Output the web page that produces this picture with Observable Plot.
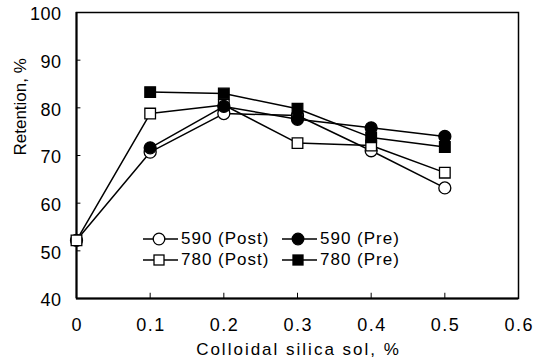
<!DOCTYPE html>
<html><head><meta charset="utf-8">
<script src="https://cdn.jsdelivr.net/npm/d3@7"></script>
<script src="https://cdn.jsdelivr.net/npm/@observablehq/plot@0.6"></script>
<style>
body{margin:0;background:#fff}
#wrap{position:relative;width:534px;height:363px;font-family:"Liberation Sans",Arial,sans-serif}
#legend{position:absolute;left:143px;top:228px;display:grid;grid-template-columns:139px 120px;row-gap:0.5px;font-size:17px;letter-spacing:1px;color:#000}
#legend .item{display:flex;align-items:center;height:21px;white-space:nowrap}
#legend svg{margin-right:3px;flex:none}
</style></head><body><div id="wrap"></div>
<script>
const silica = [0, 0.1, 0.2, 0.3, 0.4, 0.5];
const post590 = [52.2, 70.7, 78.8, 78.4, 71.0, 63.2];
const pre590  = [null, 71.6, 80.3, 77.6, 75.8, 74.0];
const post780 = [52.2, 78.8, 80.6, 72.6, 72.1, 66.4];
const pre780  = [null, 83.3, 83.0, 79.8, 73.8, 71.8];
const seriesNames = ["590 (Post)", "590 (Pre)", "780 (Post)", "780 (Pre)"];
const seriesValues = [post590, pre590, post780, pre780];
const seriesSymbol = ["circle", "circle", "square", "square"];
const seriesFill = ["white", "black", "white", "black"];
const drawOrder = ["590 (Post)", "780 (Post)", "590 (Pre)", "780 (Pre)"];
const legendOrder = ["590 (Post)", "590 (Pre)", "780 (Post)", "780 (Pre)"];
const xTicks = [0, 0.1, 0.2, 0.3, 0.4, 0.5, 0.6];
const yTicks = [40, 50, 60, 70, 80, 90, 100];
const xLabel = "Colloidal silica sol, %";
const yLabel = "Retention, %";

const rows = [];
seriesNames.forEach((s, i) => {
  silica.forEach((x, j) => {
    const v = seriesValues[i][j];
    if (v != null) rows.push({series: s, x, y: v, symbol: seriesSymbol[i], fill: seriesFill[i]});
  });
});
const ordered = drawOrder.flatMap(s => rows.filter(r => r.series === s));

const chart = Plot.plot({
  width: 534, height: 363,
  marginLeft: 76, marginRight: 16, marginTop: 12, marginBottom: 65,
  style: {fontFamily: '"Liberation Sans", Arial, sans-serif', fontSize: "17px", color: "#000", background: "#fff"},
  x: {domain: [0, 0.6]},
  y: {domain: [40, 100]},
  marks: [
    Plot.frame({stroke: "black", strokeWidth: 1.5}),
    Plot.axisX({ticks: xTicks, tickSize: 0, tickPadding: 20, tickFormat: d => d === 0 ? "0" : d.toFixed(1),
      label: null, fontSize: 18}),
    Plot.axisY({ticks: yTicks, tickSize: 0, tickPadding: 15, tickFormat: d => String(d),
      label: null, fontSize: 18, dy: 2}),
    Plot.text([xLabel], {text: d => d, frameAnchor: "bottom", dy: 56, fontSize: 17}),
    Plot.text([yLabel], {text: d => d, frameAnchor: "left", dx: -56, rotate: -90, fontSize: 17}),
    Plot.ruleY(yTicks.slice(1, -1), {y: d => d, x1: 0, x2: 0.006, stroke: "black", strokeWidth: 1}),
    Plot.ruleX(xTicks.slice(1, -1), {x: d => d, y1: 40, y2: 41.1, stroke: "black", strokeWidth: 1}),
    Plot.ruleX([0], {x: d => d, stroke: "black", strokeWidth: 2}),
    Plot.ruleY([40], {y: d => d, stroke: "black", strokeWidth: 2}),
    ...drawOrder.map(s => Plot.line(rows.filter(r => r.series === s), {x: "x", y: "y", stroke: "black", strokeWidth: 1.5})),
    Plot.dot(ordered, {x: "x", y: "y", symbol: "symbol", fill: "fill", stroke: "black", strokeWidth: 1.3, r: 6})
  ]
});
const wrap = document.getElementById("wrap");
wrap.appendChild(chart);

const root = chart.tagName.toLowerCase() === "svg" ? chart : chart.querySelector("svg");
const svg = d3.select(root);
svg.selectAll('g[aria-label="x-axis tick label"] text').style("letter-spacing", "1.5px").attr("dx", "0.75");
svg.selectAll('g[aria-label="y-axis tick label"] text').style("letter-spacing", "0.5px");
svg.selectAll("text").each(function() {
  if (this.textContent === xLabel) {
    d3.select(this).style("letter-spacing", "2px").attr("dx", "1");
  }
});

const legend = document.createElement("div");
legend.id = "legend";
legendOrder.forEach(name => {
  const i = seriesNames.indexOf(name);
  const item = document.createElement("div");
  item.className = "item";
  const sym = seriesSymbol[i] === "circle"
    ? `<circle cx="16" cy="7" r="5.8" fill="${seriesFill[i]}" stroke="black" stroke-width="1.3"/>`
    : `<rect x="11" y="2" width="10" height="10" fill="${seriesFill[i]}" stroke="black" stroke-width="1.3"/>`;
  item.innerHTML = `<svg width="35" height="14"><line x1="0" y1="7" x2="35" y2="7" stroke="black" stroke-width="1.5"/>${sym}</svg><span>${name}</span>`;
  legend.appendChild(item);
});
wrap.appendChild(legend);
</script></body></html>
